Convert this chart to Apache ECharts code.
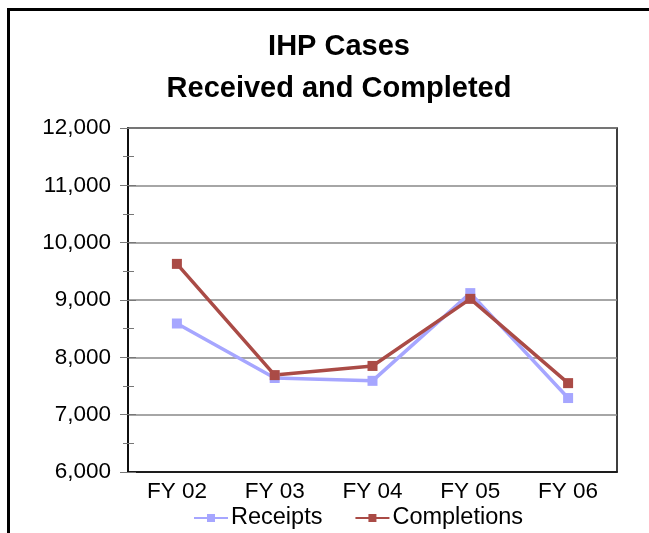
<!DOCTYPE html>
<html>
<head>
<meta charset="utf-8">
<script src="https://cdn.jsdelivr.net/npm/echarts@6/dist/echarts.min.js"></script>
<style>
  html, body { margin: 0; padding: 0; background: #fff; }
  #chart { width: 649px; height: 533px; }
</style>
</head>
<body>
<div id="chart"></div>
<script>
// data
const years = ['FY 02', 'FY 03', 'FY 04', 'FY 05', 'FY 06']
const receipts = [8590, 7640, 7590, 9120, 7290]
const completions = [9630, 7690, 7850, 9020, 7550]

const font = 'Liberation Sans, Arial, sans-serif'
const blue = '#a6a6ff'
const red = '#aa4b46'

const chart = echarts.init(document.getElementById('chart'))

const fmt = v => v.toLocaleString('en-US')

chart.setOption({
  backgroundColor: '#fff',
  animation: false,
  title: {
    text: 'IHP Cases\nReceived and Completed',
    left: 334,
    textAlign: 'center',
    top: 21,
    textStyle: {
      fontFamily: font,
      fontSize: 29,
      fontWeight: 'bold',
      color: '#000',
      lineHeight: 42
    }
  },
  graphic: [
    {
      type: 'rect',
      shape: { x: 8.5, y: 9.5, width: 700, height: 600 },
      style: { fill: 'none', stroke: '#000', lineWidth: 3 },
      silent: true
    }
  ],
  legend: {
    left: 188,
    top: 501,
    itemWidth: 34,
    itemHeight: 10,
    itemGap: 32,
    textStyle: { fontFamily: font, fontSize: 23.5, color: '#000', padding: [0, 0, 0, -2] },
    data: ['Receipts', 'Completions']
  },
  grid: {
    left: 128,
    top: 128,
    right: 32,
    bottom: 61,
    show: true,
    borderColor: '#000',
    borderWidth: 1.5
  },
  xAxis: [
    {
      type: 'category',
      data: years,
      boundaryGap: true,
      axisLine: { lineStyle: { color: '#000', width: 1.5 } },
      axisTick: { alignWithLabel: true, length: 6, lineStyle: { color: '#777' } },
      axisLabel: { fontFamily: font, fontSize: 22.5, color: '#000', margin: 8 }
    },
    {
      type: 'category',
      data: years,
      position: 'bottom',
      boundaryGap: true,
      axisLine: { show: false },
      axisTick: { inside: true, alignWithLabel: true, length: 6, lineStyle: { color: '#777' } },
      axisLabel: { show: false }
    }
  ],
  yAxis: [
    {
      type: 'value',
      min: 6000,
      max: 12000,
      interval: 1000,
      axisLine: { show: true, lineStyle: { color: '#000', width: 1.5 } },
      axisTick: { show: true, length: 8, lineStyle: { color: '#777' } },
      minorTick: { show: true, splitNumber: 2, length: 5, lineStyle: { color: '#777' } },
      splitLine: { lineStyle: { color: '#888', width: 1.5 } },
      axisLabel: { fontFamily: font, fontSize: 22.5, color: '#000', margin: 17, formatter: fmt }
    },
    {
      type: 'value',
      min: 6000,
      max: 12000,
      interval: 1000,
      position: 'left',
      axisLine: { show: false },
      axisTick: { show: true, inside: true, length: 8, lineStyle: { color: '#777' } },
      minorTick: { show: true, splitNumber: 2, length: 6, lineStyle: { color: '#777' } },
      splitLine: { show: false },
      axisLabel: { show: false }
    }
  ],
  series: [
    {
      name: 'Receipts',
      type: 'line',
      data: receipts,
      symbol: 'rect',
      symbolSize: 10,
      color: blue,
      lineStyle: { color: blue, width: 3.5 },
      itemStyle: { color: blue }
    },
    {
      name: 'Completions',
      type: 'line',
      data: completions,
      symbol: 'rect',
      symbolSize: 10,
      color: red,
      lineStyle: { color: red, width: 3.5 },
      itemStyle: { color: red }
    }
  ]
})
</script>
</body>
</html>
